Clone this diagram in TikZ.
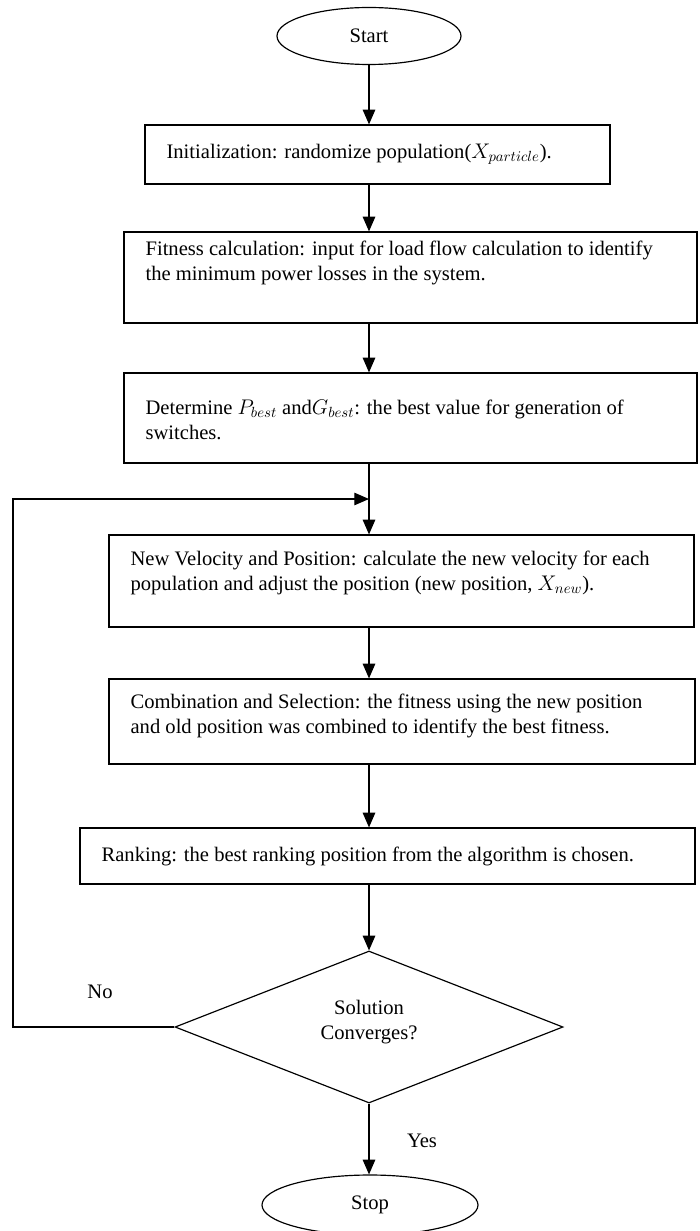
\documentclass[tikz,border=0pt]{standalone}
\usepackage{fontspec}
\setmainfont{Liberation Serif}
\usetikzlibrary{calc}
\usetikzlibrary{positioning}
\usetikzlibrary{shapes.geometric}
\usetikzlibrary{arrows.meta}
\def\px{0.68pt}

\begin{document}
\begin{tikzpicture}[x=\px, y=-\px, ->, >={Triangle[length=10pt, width=8.5pt]}, line width=0.8pt, font=\fontsize{14}{17}\selectfont]
	\tikzstyle{term}=[draw, ellipse, inner sep=0pt]
	\tikzstyle{block}=[draw, rectangle, inner sep=0pt]
	\tikzstyle{txt}=[anchor=west, align=left, inner sep=0pt]
	\tikzstyle{decide}=[draw, diamond, inner sep=0pt, align=center]

	\useasboundingbox (0,0) rectangle (699,1231);

	\node[term, minimum width=184*\px, minimum height=57*\px] (start) at (369,36) {Start};
	\node[block, minimum width=465*\px, minimum height=59*\px] (init) at (377.5,154.5) {};
	\node[block, minimum width=573*\px, minimum height=91*\px] (fit) at (410.5,277.5) {};
	\node[block, minimum width=573*\px, minimum height=90*\px] (det) at (410.5,418) {};
	\node[block, minimum width=585*\px, minimum height=92*\px] (vel) at (401.5,581) {};
	\node[block, minimum width=586*\px, minimum height=85*\px] (comb) at (402,721.5) {};
	\node[block, minimum width=615*\px, minimum height=56*\px] (rank) at (387.5,856) {};
	\node[decide, minimum width=388*\px, minimum height=152*\px] (dec) at (369,1027) {};
	\node[term, minimum width=216*\px, minimum height=60*\px] (stop) at (370,1205) {Stop};

	% texts inside the boxes
	\node[txt] (initT) at (166,154) {Initialization: randomize population($X_{particle}$).};
	\node[txt] (fitT) at (145,263) {Fitness calculation: input for load flow calculation to identify\\the minimum power losses in the system.};
	\node[txt] (detT) at (145,420) {Determine $P_{best}$ and$G_{best}$: the best value for generation of\\switches.};
	\node[txt] (velT) at (130,573) {New Velocity and Position: calculate the new velocity for each\\population and adjust the position (new position, $X_{new}$).};
	\node[txt] (combT) at (130,716) {Combination and Selection: the fitness using the new position\\and old position was combined to identify the best fitness.};
	\node[txt] (rankT) at (101,856) {Ranking: the best ranking position from the algorithm is chosen.};
	\node[align=center] (decT) at (369,1022) {Solution\\Converges?};
	\node (no) at (100,992) {No};
	\node (yes) at (422,1141) {Yes};

	\coordinate (lft) at (13,0);
	\coordinate (join) at (369,499);

	\draw (start.south) -- (init.north -| start.south);
	\draw (init.south -| start.south) -- (fit.north -| start.south);
	\draw (fit.south -| start.south) -- (det.north -| start.south);
	\draw (det.south -| start.south) -- (vel.north -| start.south);
	\draw (vel.south -| start.south) -- (comb.north -| start.south);
	\draw (comb.south -| start.south) -- (rank.north -| start.south);
	\draw (rank.south -| start.south) -- (dec.north);
	\draw (dec.south) -- (stop.north -| dec.south);
	\draw (dec.west) -- (dec.west -| lft) |- (join);
\end{tikzpicture}
\end{document}
